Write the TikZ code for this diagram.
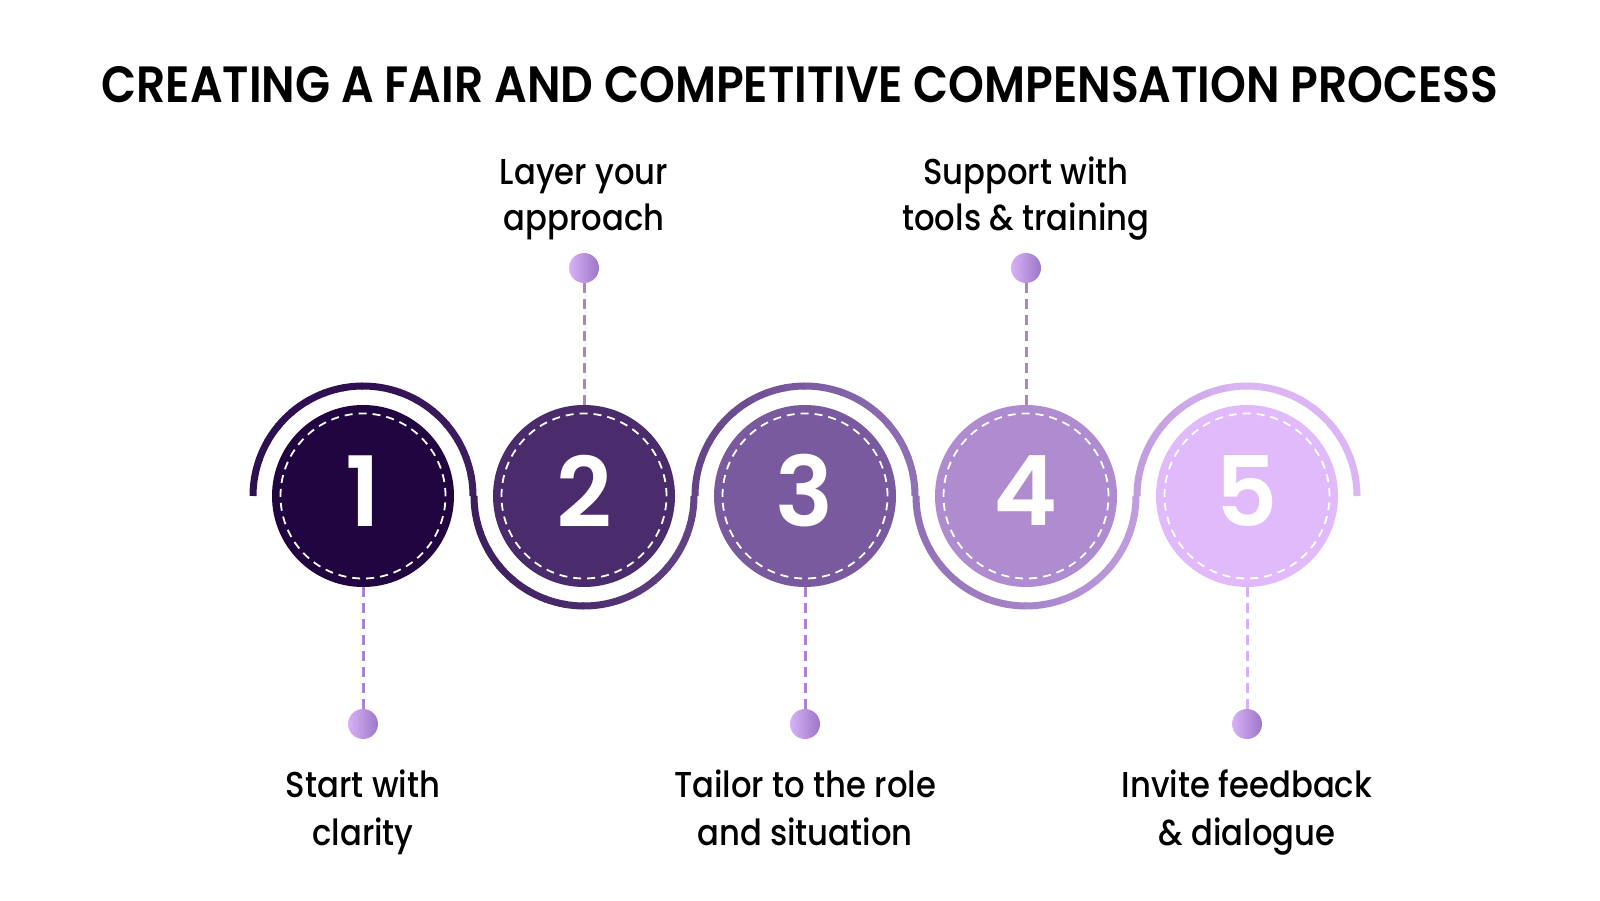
\documentclass[tikz,border=0pt]{standalone}
\usepackage{fontspec}
\usepackage{graphicx}
\setmainfont{Poppins}
\IfFontExistsTF{Poppins SemiBold}{\newfontfamily\ttlfont{Poppins SemiBold}}{\newfontfamily\ttlfont[FakeBold=1]{Poppins}}
\IfFontExistsTF{Poppins SemiBold}{\newfontfamily\numfont{Poppins SemiBold}}{\newfontfamily\numfont[FakeBold=1.5]{Poppins}}
\IfFontExistsTF{Poppins Medium}{\newfontfamily\lblfont{Poppins Medium}}{\newfontfamily\lblfont[FakeBold=0.6]{Poppins}}
\definecolor{fc1}{HTML}{200540}
\definecolor{fc2}{HTML}{4A2C6C}
\definecolor{fc3}{HTML}{7A5A9E}
\definecolor{fc4}{HTML}{AF8BD0}
\definecolor{fc5}{HTML}{E0BAFA}
\definecolor{wl0}{HTML}{2E1052}
\definecolor{wl1}{HTML}{2E1052}
\definecolor{wl2}{HTML}{4B2C6D}
\definecolor{wl3}{HTML}{7B5BA0}
\definecolor{wl4}{HTML}{A584C9}
\definecolor{wl5}{HTML}{DCB6F4}
\definecolor{wl6}{HTML}{DCB6F4}
\definecolor{dotL}{HTML}{D8B2F6}
\definecolor{dotR}{HTML}{9C76C8}
\definecolor{lnk}{HTML}{A985CF}
\definecolor{lnklight}{HTML}{D8B4F5}
\newsavebox\mybox
\begin{document}
\sbox\mybox{\ttlfont\fontsize{51}{51}\selectfont CREATING A FAIR AND COMPETITIVE COMPENSATION PROCESS}
\pgfmathsetmacro\titlescale{1397/\the\wd\mybox}
\sbox\mybox{\lblfont\fontsize{36}{44}\selectfont Tailor to the role}
\pgfmathsetmacro\lblscale{262/\the\wd\mybox}
\begin{tikzpicture}[x=1pt,y=1pt,
  stepcirc/.style={circle, minimum size=182pt, inner sep=0pt},
  digit/.style={inner sep=0pt, text=white, font={\numfont\fontsize{97}{97}\selectfont}},
  innerring/.style={draw=white, line width=1.8pt, dash pattern=on 8pt off 6pt},
  dotnode/.style={circle, minimum size=30pt, inner sep=0pt, left color=dotL, right color=dotR},
  conn/.style={draw=lnk, line width=3pt, dash pattern=on 10pt off 6pt},
  wave/.style={line width=7pt},
  lbl/.style={font={\lblfont\fontsize{36}{44}\selectfont}, anchor=base, inner sep=0pt, text=black},
  ttl/.style={font={\ttlfont\fontsize{51}{51}\selectfont}, anchor=base, inner sep=0pt, text=black}
]
\fill[white] (0,0) rectangle (1600,900);
\useasboundingbox (0,0) rectangle (1600,900);

% title
\node[ttl] (title) at (800,797) {\scalebox{\titlescale}[1]{CREATING A FAIR AND COMPETITIVE COMPENSATION PROCESS}};

% wavy line with horizontal colour gradient
\foreach \k/\cx in {1/363,2/584,3/805,4/1026,5/1247}{
  \pgfmathsetmacro{\dir}{ifthenelse(mod(\k,2)==1,-1,1)}
  \foreach \i in {0,...,17}{
    \pgfmathsetmacro{\a}{180+\dir*10*\i}
    \pgfmathsetmacro{\b}{\a+\dir*10}
    \pgfmathsetmacro{\aa}{\i==0 ? \a : \a-\dir*0.8}
    \pgfmathsetmacro{\m}{(\a+\b)/2}
    \pgfmathtruncatemacro{\p}{round(100*abs(cos(\m))*110/221)}
    \pgfmathtruncatemacro{\nb}{cos(\m)<0 ? \k-1 : \k+1}
    \draw[wave, draw=wl\nb!\p!wl\k] (\cx,404) ++(\aa:110pt) arc[start angle=\aa, end angle=\b, radius=110pt];
  }
}

% step circles
\foreach \k/\cx in {1/363,2/584,3/805,4/1026,5/1247}{
  \node[stepcirc, fill=fc\k] (n\k) at (\cx,404) {};
  \draw[innerring] (n\k.center) circle[radius=82.5pt];
  \node[digit] (g\k) at ([yshift=5pt]n\k.center) {\k};
}

% dots
\node[dotnode] (d1) at (363,176) {};
\node[dotnode] (d2) at (584,632) {};
\node[dotnode] (d3) at (805,176) {};
\node[dotnode] (d4) at (1026,632) {};
\node[dotnode] (d5) at (1247,176) {};

% connectors
\draw[conn] (n1) -- (d1);
\draw[conn] (n2) -- (d2);
\draw[conn] (n3) -- (d3);
\draw[conn] (n4) -- (d4);
\draw[conn, draw=lnklight] (n5) -- (d5);

% labels
\node[lbl] (t1a) at (363,103) {\scalebox{\lblscale}[1]{Start with}};
\node[lbl] (t1b) at (363,55) {\scalebox{\lblscale}[1]{clarity}};
\node[lbl] (t2a) at (584,715) {\scalebox{\lblscale}[1]{Layer your}};
\node[lbl] (t2b) at (584,669) {\scalebox{\lblscale}[1]{approach}};
\node[lbl] (t3a) at (805,103) {\scalebox{\lblscale}[1]{Tailor to the role}};
\node[lbl] (t3b) at (805,55) {\scalebox{\lblscale}[1]{and situation}};
\node[lbl] (t4a) at (1026,715) {\scalebox{\lblscale}[1]{Support with}};
\node[lbl] (t4b) at (1026,669) {\scalebox{\lblscale}[1]{tools \& training}};
\node[lbl] (t5a) at (1247,103) {\scalebox{\lblscale}[1]{Invite feedback}};
\node[lbl] (t5b) at (1247,55) {\scalebox{\lblscale}[1]{\& dialogue}};
\end{tikzpicture}
\end{document}
